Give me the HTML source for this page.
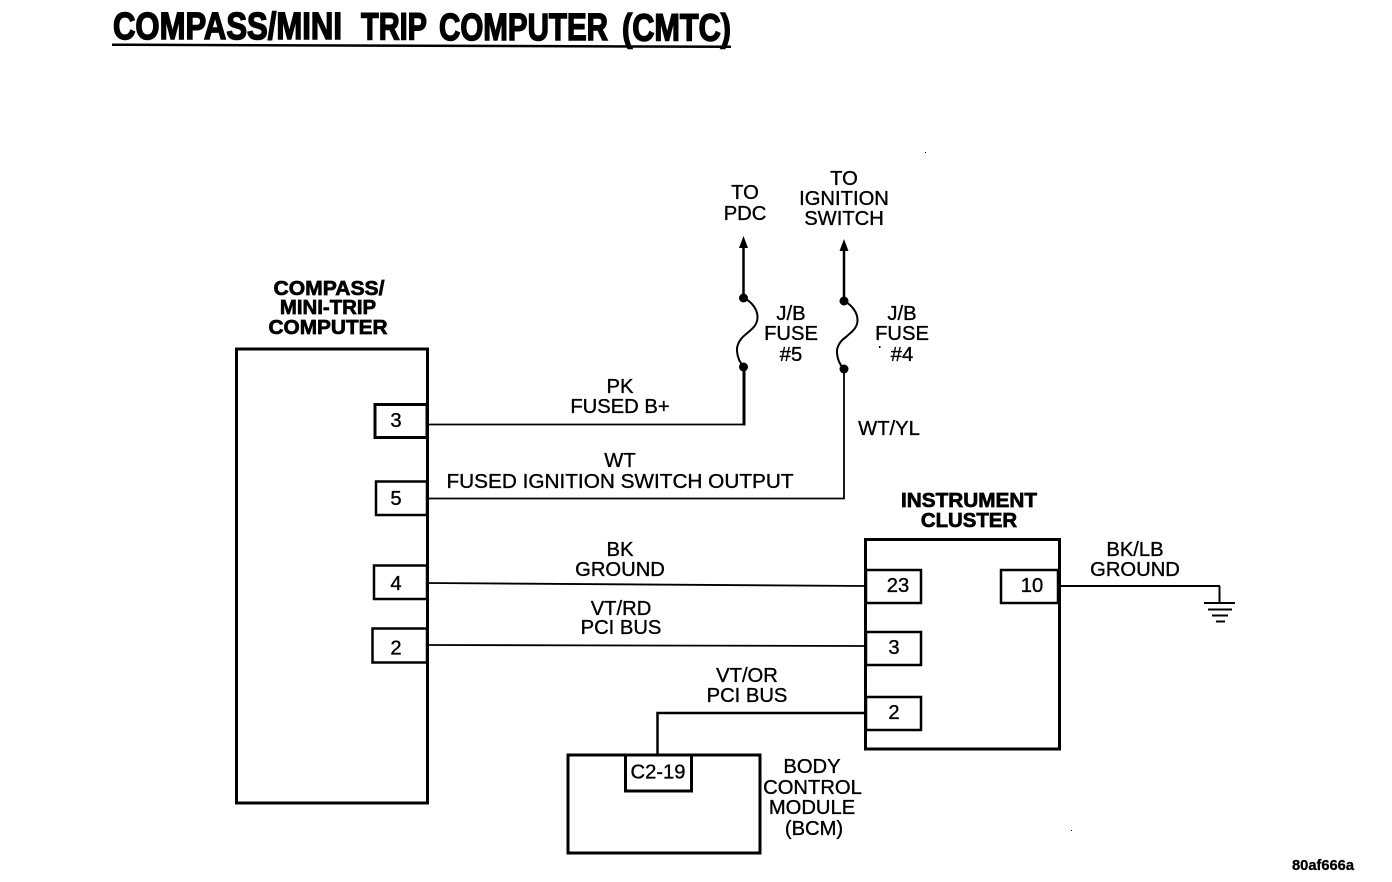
<!DOCTYPE html>
<html>
<head>
<meta charset="utf-8">
<style>
html,body{margin:0;padding:0;background:#fff;width:1392px;height:882px;overflow:hidden}
svg{display:block}
text{font-family:"Liberation Sans",sans-serif;fill:#000;text-anchor:middle;font-size:20.2px;stroke:#000;stroke-width:.35px}
.b{font-weight:bold;stroke-width:.7px;font-size:20.4px}
.t{font-weight:bold;font-size:38px;stroke-width:1.5px;text-anchor:start}
</style>
</head>
<body>
<svg width="1392" height="882" viewBox="0 0 1392 882" xmlns="http://www.w3.org/2000/svg">
<text x="113" y="39" class="t" textLength="229" lengthAdjust="spacingAndGlyphs">COMPASS/MINI</text>
<text x="361" y="39.500" class="t" textLength="66" lengthAdjust="spacingAndGlyphs">TRIP</text>
<text x="439" y="40" class="t" textLength="169" lengthAdjust="spacingAndGlyphs">COMPUTER</text>
<text x="622" y="40.500" class="t" textLength="109" lengthAdjust="spacingAndGlyphs">(CMTC)</text>
<polygon points="112,43.500 731,45.500 731,48 112,46" fill="#000"/>

<g fill="none" stroke="#000">
<rect x="236.500" y="349" width="191" height="454" stroke-width="3"/>
<rect x="865.500" y="539.500" width="194" height="209.500" stroke-width="3"/>
<rect x="568" y="755" width="192" height="98" stroke-width="3"/>
<rect x="375" y="404.500" width="52" height="33" stroke-width="3"/>
<rect x="376" y="481.500" width="51" height="33.500" stroke-width="2.500"/>
<rect x="374" y="565.500" width="53" height="33.500" stroke-width="2.500"/>
<rect x="372.500" y="628.500" width="54.500" height="34" stroke-width="2.500"/>
<rect x="866" y="570" width="55" height="33" stroke-width="2.500"/>
<rect x="866" y="632" width="55" height="33" stroke-width="2.500"/>
<rect x="866" y="697" width="55" height="33" stroke-width="2.500"/>
<rect x="1001" y="570" width="57" height="33" stroke-width="2.500"/>
<rect x="625.500" y="755" width="66" height="36" stroke-width="3"/>

<polyline points="428,424.500 744,424.500" stroke-width="1.800"/>
<line x1="744" y1="367" x2="744" y2="425.500" stroke-width="3"/>
<polyline points="428,498.500 844,498.500 844,369" stroke-width="1.800"/>
<line x1="428" y1="583" x2="866" y2="586" stroke-width="1.800"/>
<line x1="428" y1="645" x2="866" y2="646" stroke-width="1.800"/>
<polyline points="657.500,755 657.500,713 866,713" stroke-width="2.500"/>
<line x1="1060" y1="586" x2="1220" y2="586" stroke-width="2"/>
<line x1="1219.500" y1="586" x2="1219.500" y2="603" stroke-width="2"/>
<line x1="1204" y1="603" x2="1235" y2="603" stroke-width="2"/>
<line x1="1208" y1="609.500" x2="1232" y2="609.500" stroke-width="2"/>
<line x1="1212" y1="615.500" x2="1228" y2="615.500" stroke-width="2"/>
<line x1="1216" y1="621.500" x2="1225" y2="621.500" stroke-width="2"/>

<line x1="743.500" y1="245" x2="743.500" y2="298" stroke-width="2.500"/>
<line x1="844" y1="248" x2="844" y2="301" stroke-width="2.500"/>
<path d="M744 298 C752 302,758 310,757.500 318 C757 327,749 331,745 335 C740 339,736.500 345,737 351 C737.500 358,740 363,744 367" stroke-width="2"/>
<path d="M844 301 C852 305,858 313,857.500 321 C857 329,850 333,846 337 C840 341,836.500 347,837 353 C837.500 360,840 365,844 369" stroke-width="2"/>
</g>
<polygon points="743.500,236 739,248 748,248" fill="#000"/>
<polygon points="844,239 839.500,251 848.500,251" fill="#000"/>
<circle cx="743.500" cy="298" r="4.500" fill="#000"/>
<circle cx="743.500" cy="367" r="4.500" fill="#000"/>
<circle cx="844" cy="301" r="4.500" fill="#000"/>
<circle cx="844" cy="369" r="4.500" fill="#000"/>
<rect x="879" y="346" width="1.500" height="2" fill="#000"/>
<rect x="925" y="152" width="1" height="1" fill="#000"/>
<rect x="1071" y="830" width="1" height="1" fill="#000"/>

<text x="745" y="199">TO</text>
<text x="745" y="220">PDC</text>
<text x="844" y="185">TO</text>
<text x="844" y="205">IGNITION</text>
<text x="844" y="225">SWITCH</text>
<text x="791" y="320">J/B</text>
<text x="791" y="340">FUSE</text>
<text x="791" y="361">#5</text>
<text x="902" y="320">J/B</text>
<text x="902" y="340">FUSE</text>
<text x="902" y="361">#4</text>
<text x="889" y="435">WT/YL</text>

<text x="329" y="295" class="b" textLength="111" lengthAdjust="spacingAndGlyphs">COMPASS/</text>
<text x="328" y="314" class="b">MINI-TRIP</text>
<text x="328" y="334" class="b" textLength="119" lengthAdjust="spacingAndGlyphs">COMPUTER</text>
<text x="969" y="507" class="b" textLength="136" lengthAdjust="spacingAndGlyphs">INSTRUMENT</text>
<text x="969" y="527" class="b">CLUSTER</text>

<text x="396" y="427">3</text>
<text x="396" y="505">5</text>
<text x="396" y="590">4</text>
<text x="396" y="654.500">2</text>
<text x="898" y="592">23</text>
<text x="894" y="654">3</text>
<text x="894" y="719">2</text>
<text x="1032" y="592">10</text>
<text x="658" y="778.500">C2-19</text>

<text x="620" y="393">PK</text>
<text x="620" y="413">FUSED B+</text>
<text x="620" y="467">WT</text>
<text x="620" y="488" textLength="347" lengthAdjust="spacingAndGlyphs">FUSED IGNITION SWITCH OUTPUT</text>
<text x="620" y="556">BK</text>
<text x="620" y="576">GROUND</text>
<text x="621" y="615">VT/RD</text>
<text x="621" y="634">PCI BUS</text>
<text x="747" y="682">VT/OR</text>
<text x="747" y="702">PCI BUS</text>
<text x="1135" y="556">BK/LB</text>
<text x="1135" y="576">GROUND</text>
<text x="812" y="773">BODY</text>
<text x="812.500" y="794">CONTROL</text>
<text x="812" y="814">MODULE</text>
<text x="814" y="835">(BCM)</text>
<text x="1323" y="870" class="b" style="font-size:15px;stroke-width:.3px" textLength="62" lengthAdjust="spacingAndGlyphs">80af666a</text>
</svg>
</body>
</html>
